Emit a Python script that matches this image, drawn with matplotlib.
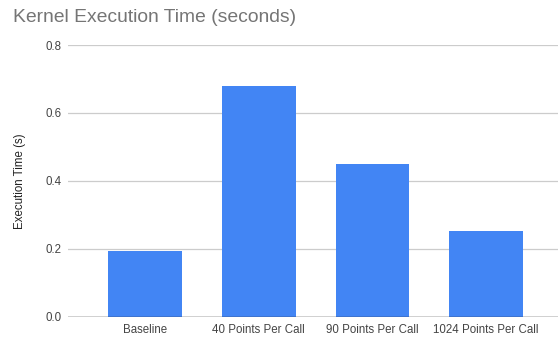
import matplotlib
matplotlib.use("Agg")
import matplotlib.pyplot as plt

categories = ["Baseline", "40 Points Per Call", "90 Points Per Call", "1024 Points Per Call"]
values = [0.194, 0.680, 0.449, 0.251]
yticks = [0.0, 0.2, 0.4, 0.6, 0.8]

plt.rcParams['font.family'] = ['Liberation Sans', 'DejaVu Sans']

fig = plt.figure(figsize=(5.58, 3.39), dpi=100)
ax = fig.add_axes([68.3/558, 1-316.7/339, (557.5-68.3)/558, (316.7-45)/339])

x = list(range(len(categories)))
ax.bar(x, values, width=0.648, color="#4285F4", zorder=3)

ax.set_xlim(-0.676, 3.627)
ax.set_ylim(0, 0.8)
ax.set_yticks(yticks)
ax.set_yticklabels([f"{v:.1f}" for v in yticks])
ax.set_xticks(x)
ax.set_xticklabels(categories)
ax.grid(axis='y', color="#cccccc", linewidth=0.9, zorder=0)
ax.axhline(0, color="#333333", linewidth=1.0, zorder=4)
for s in ax.spines.values():
    s.set_visible(False)
ax.tick_params(axis='both', length=0, labelsize=8.3, labelcolor="#444444")
ax.tick_params(axis='y', pad=5)
ax.tick_params(axis='x', pad=5)
ax.set_ylabel("Execution Time (s)", fontsize=8.3, color="#222222", labelpad=14)

fig.text(13/558, 1-18/339, "Kernel Execution Time (seconds)", fontsize=13.9,
         color="#757575", ha='left', va='center')

fig.savefig("out.png", dpi=100)
